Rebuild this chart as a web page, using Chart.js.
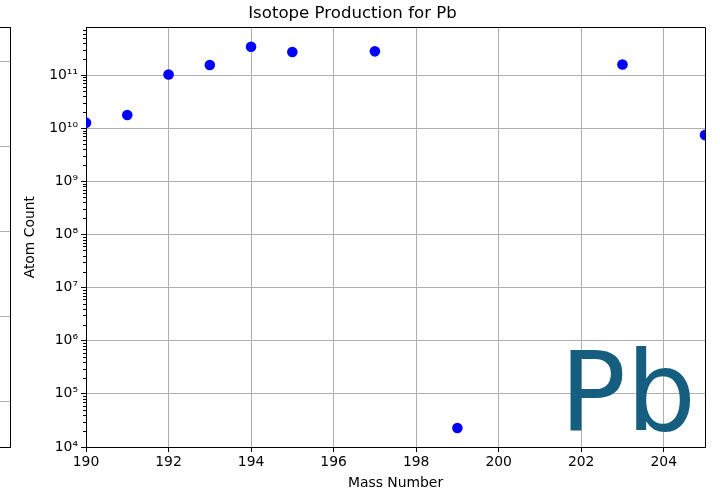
<!DOCTYPE html>
<html>
<head>
<meta charset="utf-8">
<script src="https://cdn.jsdelivr.net/npm/chart.js@4/dist/chart.umd.min.js"></script>
<style>
  html, body { margin: 0; padding: 0; background: #fff; overflow: hidden; }
  #wrap { position: relative; width: 720px; height: 493px; }
  #c { position: absolute; left: 0; top: 0; }
  #prev { position: absolute; left: -40px; top: 27px; width: 49px; height: 419px; border: 1px solid #000; box-sizing: content-box; }
  #prev div { position: absolute; left: 0; right: 0; height: 1px; background: #b0b0b0; }
</style>
</head>
<body>
<div id="wrap">
  <canvas id="c" width="720" height="493"></canvas>
  <div id="prev">
    <div style="top:33px"></div>
    <div style="top:118px"></div>
    <div style="top:203px"></div>
    <div style="top:288px"></div>
    <div style="top:373px"></div>
  </div>
</div>
<script>
// ---- data ----
const massNumbers = [190, 191, 192, 193, 194, 195, 197, 199, 203, 205];
const atomCounts  = [1.27e10, 1.77e10, 1.02e11, 1.54e11, 3.4e11, 2.71e11, 2.79e11, 2.28e4, 1.58e11, 7.4e9];
const xTickValues = [190, 192, 194, 196, 198, 200, 202, 204];
const yDecades    = [4, 5, 6, 7, 8, 9, 10, 11];
const titleText   = 'Isotope Production for Pb';
const xLabel      = 'Mass Number';
const yLabel      = 'Atom Count';
const elementText = 'Pb';
const xRange = [190, 205];
const yRange = [1e4, 7.9e11];

const SUP = {'0':'⁰','1':'¹','2':'²','3':'³','4':'⁴','5':'⁵','6':'⁶','7':'⁷','8':'⁸','9':'⁹','-':'⁻'};
const supStr = n => String(n).split('').map(c => SUP[c]).join('');
const isMajor = v => { const l = Math.log10(v); return Math.abs(l - Math.round(l)) < 1e-9; };

const FONT = 'DejaVu Sans';

const framePlugin = {
  id: 'frame',
  afterDatasetsDraw(chart) {
    const {ctx, chartArea: a, scales} = chart;
    ctx.save();
    // element label
    ctx.fillStyle = '#165e80';
    ctx.font = '110px "' + FONT + '"';
    ctx.textAlign = 'right';
    ctx.textBaseline = 'alphabetic';
    ctx.fillText(elementText, a.right - 9, a.bottom - 17);
    // minor ticks on y axis
    const y = scales.y;
    ctx.strokeStyle = '#000';
    ctx.lineWidth = 1;
    ctx.beginPath();
    y.ticks.forEach(t => {
      if (!isMajor(t.value)) {
        const py = Math.round(y.getPixelForValue(t.value)) + 0.5;
        ctx.moveTo(a.left - 3, py);
        ctx.lineTo(a.left, py);
      }
    });
    ctx.stroke();
    // top & right spines
    ctx.beginPath();
    ctx.moveTo(Math.round(a.left) + 0.5, Math.round(a.top) + 0.5);
    ctx.lineTo(Math.round(a.right) + 0.5, Math.round(a.top) + 0.5);
    ctx.lineTo(Math.round(a.right) + 0.5, Math.round(a.bottom) + 0.5);
    ctx.stroke();
    ctx.restore();
  }
};

new Chart(document.getElementById('c'), {
  type: 'scatter',
  data: {
    datasets: [{
      data: massNumbers.map((m, i) => ({x: m, y: atomCounts[i]})),
      backgroundColor: '#0000ff',
      borderWidth: 0,
      pointRadius: 5.3,
      pointHoverRadius: 5.3
    }]
  },
  options: {
    responsive: false,
    animation: false,
    events: [],
    layout: { padding: { left: 0, right: 15, top: 0, bottom: 0 } },
    plugins: {
      legend: { display: false },
      tooltip: { enabled: false },
      title: {
        display: true,
        text: titleText,
        color: '#000',
        font: { family: FONT, size: 16.6, weight: 'normal' },
        padding: { top: 3.3, bottom: 4.1 }
      }
    },
    scales: {
      x: {
        type: 'linear',
        min: xRange[0],
        max: xRange[1],
        afterBuildTicks: s => { s.ticks = xTickValues.map(v => ({value: v})); },
        afterFit: s => { s.height = 46; },
        ticks: {
          color: '#000',
          font: { family: FONT, size: 13.9 },
          padding: 2.5,
          maxRotation: 0,
          autoSkip: false,
          callback: v => String(v)
        },
        grid: { color: '#b0b0b0', lineWidth: 1, tickColor: '#000', tickLength: 5 },
        border: { display: true, color: '#000', width: 1 },
        title: {
          display: true,
          text: xLabel,
          color: '#000',
          font: { family: FONT, size: 13.9 },
          padding: { top: 0, bottom: 1.7 }
        }
      },
      y: {
        type: 'logarithmic',
        min: yRange[0],
        max: yRange[1],
        afterBuildTicks: s => {
          const t = [];
          yDecades.forEach(d => {
            for (let k = 1; k <= 9; k++) {
              const v = k * Math.pow(10, d);
              if (v >= yRange[0] && v <= yRange[1]) t.push({value: v});
            }
          });
          s.ticks = t;
        },
        afterFit: s => { s.width = 86; },
        ticks: {
          color: '#000',
          font: { family: FONT, size: 13.9 },
          padding: 3,
          autoSkip: false,
          callback: v => isMajor(v) ? '10' + supStr(Math.round(Math.log10(v))) : ''
        },
        grid: {
          color: c => (c.tick && isMajor(c.tick.value)) ? '#b0b0b0' : 'rgba(0,0,0,0)',
          tickColor: c => (c.tick && isMajor(c.tick.value)) ? '#000' : 'rgba(0,0,0,0)',
          lineWidth: 1,
          tickLength: 5
        },
        border: { display: true, color: '#000', width: 1 },
        title: {
          display: true,
          text: yLabel,
          color: '#000',
          font: { family: FONT, size: 13.9 },
          padding: { top: 21.7, bottom: 0 }
        }
      }
    }
  },
  plugins: [framePlugin]
});
</script>
</body>
</html>
